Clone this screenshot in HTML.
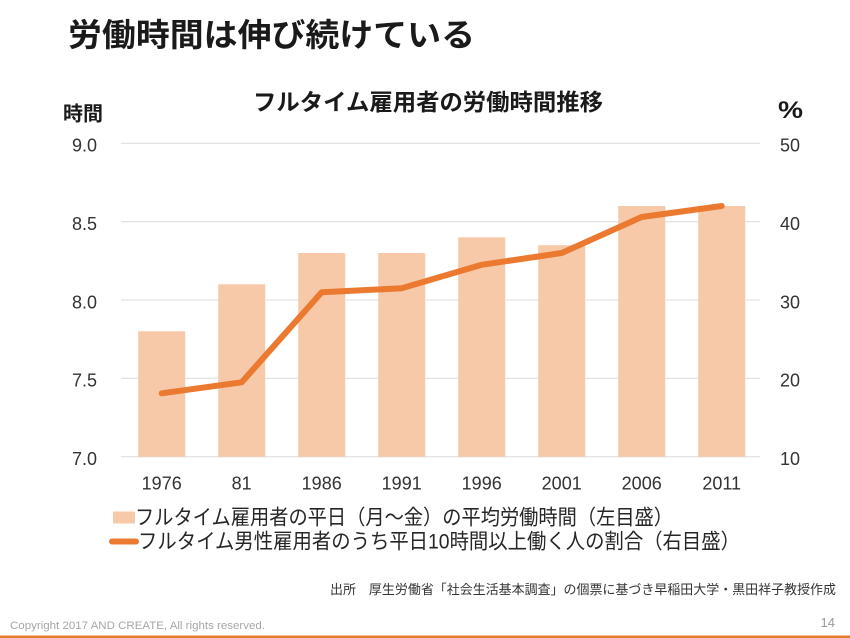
<!DOCTYPE html>
<html>
<head>
<meta charset="utf-8">
<style>
  html, body { margin: 0; padding: 0; background: #ffffff; }
  svg { display: block; }
  .jp { font-family: "Liberation Sans", "Noto Sans CJK JP", sans-serif; }
  .num { font-family: "Liberation Sans", "DejaVu Sans", sans-serif; }
</style>
</head>
<body>
<svg width="850" height="638" viewBox="0 0 850 638" xmlns="http://www.w3.org/2000/svg">
  <rect x="0" y="0" width="850" height="638" fill="#ffffff"/>

  <!-- Title -->
  <text class="jp" x="68" y="46" font-size="32" font-weight="bold" fill="#1a1a1a" textLength="407" lengthAdjust="spacingAndGlyphs">労働時間は伸び続けている</text>

  <!-- Chart title -->
  <text class="jp" x="253" y="110" font-size="23" font-weight="bold" fill="#1a1a1a" textLength="350" lengthAdjust="spacingAndGlyphs">フルタイム雇用者の労働時間推移</text>

  <!-- Axis unit labels -->
  <text class="jp" x="63" y="120.5" font-size="20" font-weight="bold" fill="#1a1a1a" textLength="40" lengthAdjust="spacingAndGlyphs">時間</text>
  <text class="num" x="778" y="118" font-size="24" font-weight="bold" fill="#1a1a1a" textLength="25" lengthAdjust="spacingAndGlyphs">%</text>

  <!-- Gridlines -->
  <g stroke="#dcdcdc" stroke-width="1">
    <line x1="121" y1="143.3" x2="760" y2="143.3"/>
    <line x1="121" y1="221.7" x2="760" y2="221.7"/>
    <line x1="121" y1="300" x2="760" y2="300"/>
    <line x1="121" y1="378.3" x2="760" y2="378.3"/>
    <line x1="121" y1="456.7" x2="760" y2="456.7"/>
  </g>

  <!-- Left tick labels -->
  <g class="num" font-size="18" fill="#333333" text-anchor="end">
    <text x="97" y="151.5">9.0</text>
    <text x="97" y="230">8.5</text>
    <text x="97" y="308.3">8.0</text>
    <text x="97" y="386.6">7.5</text>
    <text x="97" y="465">7.0</text>
  </g>

  <!-- Right tick labels -->
  <g class="num" font-size="18" fill="#333333" text-anchor="start">
    <text x="780" y="151.5">50</text>
    <text x="780" y="230">40</text>
    <text x="780" y="308.3">30</text>
    <text x="780" y="386.6">20</text>
    <text x="780" y="465">10</text>
  </g>

  <!-- Bars -->
  <g fill="#F7C9A9">
    <rect x="138.2" y="331.3" width="47" height="125.4"/>
    <rect x="218.2" y="284.3" width="47" height="172.4"/>
    <rect x="298.2" y="253.0" width="47" height="203.7"/>
    <rect x="378.2" y="253.0" width="47" height="203.7"/>
    <rect x="458.2" y="237.3" width="47" height="219.4"/>
    <rect x="538.2" y="245.2" width="47" height="211.5"/>
    <rect x="618.2" y="206.0" width="47" height="250.7"/>
    <rect x="698.2" y="206.0" width="47" height="250.7"/>
  </g>

  <!-- Line -->
  <polyline fill="none" stroke="#EB7A30" stroke-width="6" stroke-linejoin="round" stroke-linecap="round"
    points="161.7,393.3 241.7,382.3 321.7,292.2 401.7,288.3 481.7,264.8 561.7,253.0 641.7,217.0 721.7,206.0"/>

  <!-- X labels -->
  <g class="num" font-size="18" fill="#333333" text-anchor="middle">
    <text x="161.7" y="489.5">1976</text>
    <text x="241.7" y="489.5">81</text>
    <text x="321.7" y="489.5">1986</text>
    <text x="401.7" y="489.5">1991</text>
    <text x="481.7" y="489.5">1996</text>
    <text x="561.7" y="489.5">2001</text>
    <text x="641.7" y="489.5">2006</text>
    <text x="721.7" y="489.5">2011</text>
  </g>

  <!-- Legend -->
  <rect x="113" y="511.5" width="22" height="12" fill="#F7C9A9"/>
  <text class="jp" x="135" y="524.5" font-size="21" fill="#262626" textLength="538" lengthAdjust="spacingAndGlyphs">フルタイム雇用者の平日（月～金）の平均労働時間（左目盛）</text>

  <line x1="112" y1="541.5" x2="136" y2="541.5" stroke="#EB7A30" stroke-width="6" stroke-linecap="round"/>
  <text class="jp" x="138" y="548.5" font-size="21" fill="#262626" textLength="602" lengthAdjust="spacingAndGlyphs">フルタイム男性雇用者のうち平日10時間以上働く人の割合（右目盛）</text>

  <!-- Source -->
  <text class="jp" x="330" y="594" font-size="13" fill="#333333" textLength="506" lengthAdjust="spacingAndGlyphs">出所　厚生労働省「社会生活基本調査」の個票に基づき早稲田大学・黒田祥子教授作成</text>

  <!-- Footer -->
  <text class="num" x="10" y="629" font-size="11" fill="#a6a6a6" textLength="255" lengthAdjust="spacingAndGlyphs">Copyright 2017 AND CREATE, All rights reserved.</text>
  <text class="num" x="835" y="627" font-size="13" fill="#9a9a9a" text-anchor="end">14</text>
  <rect x="0" y="635.5" width="850" height="2.5" fill="#E87C2E"/>
</svg>
</body>
</html>
